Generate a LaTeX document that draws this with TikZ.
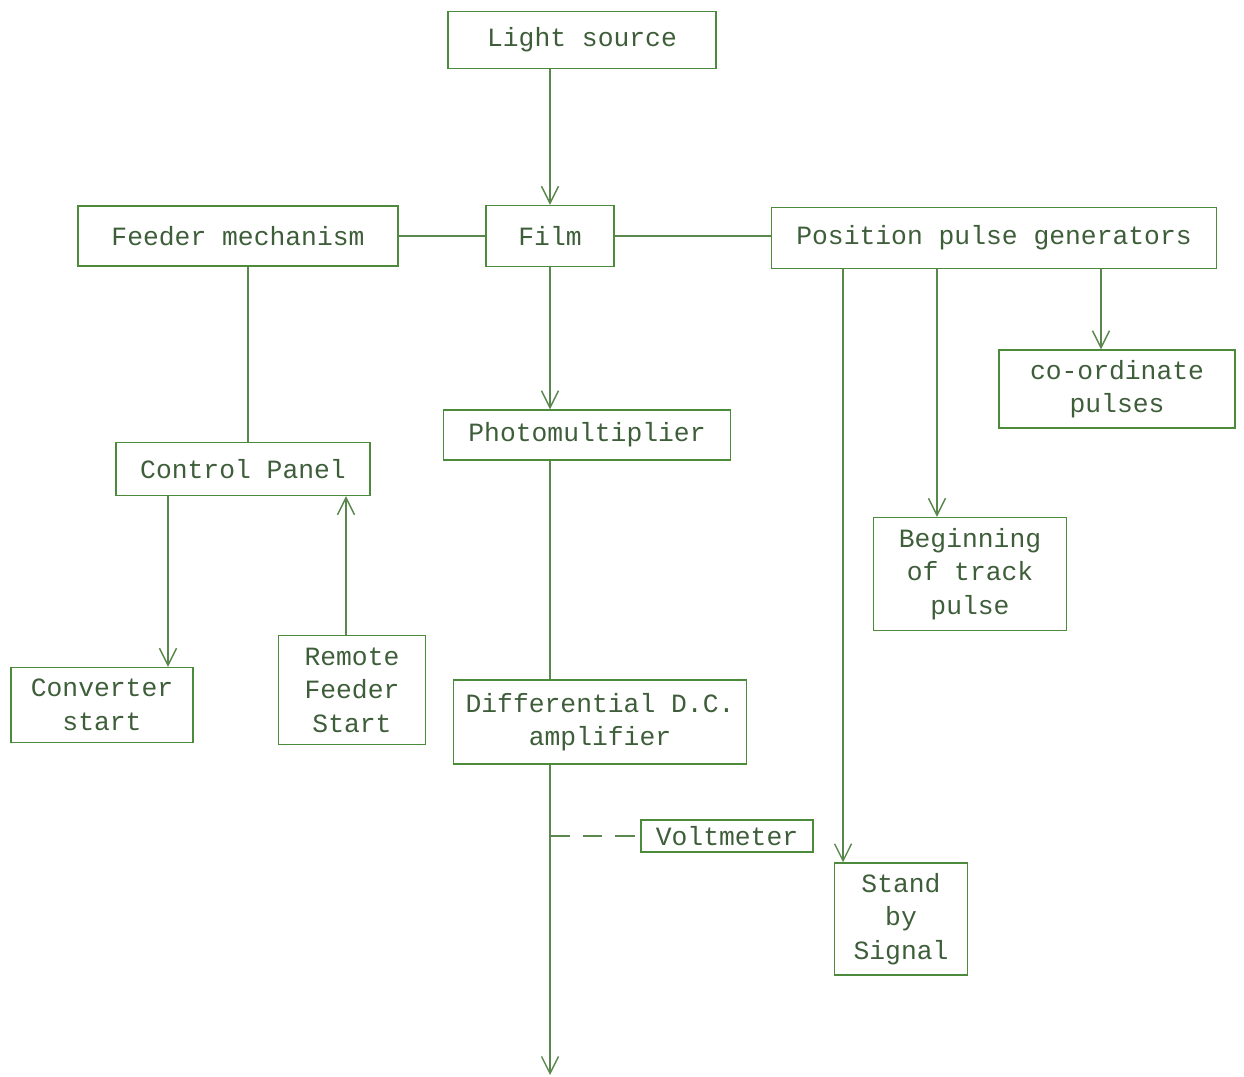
\documentclass[tikz,border=0pt]{standalone}
\usepackage{fontspec}
\setmonofont{Liberation Mono}
\usetikzlibrary{arrows.meta, positioning}
\definecolor{ink}{HTML}{3E5E3A}
\definecolor{wire}{HTML}{4C8A3C}

\begin{document}
\begin{tikzpicture}[
      x=0.02cm, y=-0.02cm,
      font=\ttfamily\fontsize{15}{19}\selectfont,
      box/.style={rectangle, draw=wire, thick, text=ink, align=center, inner sep=0pt},
      arrow/.style={draw=wire!75!gray, thick, -{Straight Barb[length=3.4mm, width=3.4mm]}},
      line/.style={draw=wire!75!gray, thick}
    ]
      \useasboundingbox (0,0) rectangle (1244,1077);

      \node (light) [box, minimum width=5.36cm, minimum height=1.14cm] at (582,40) {Light source};
      \node (film) [box, minimum width=2.56cm, minimum height=1.22cm] at (550,236) {Film};
      \node (feeder) [box, minimum width=6.4cm, minimum height=1.2cm] at (238,236) {Feeder mechanism};
      \node (position) [box, minimum width=8.9cm, minimum height=1.22cm] at (994,238) {Position pulse generators};
      \node (coord) [box, minimum width=4.72cm, minimum height=1.56cm] at (1117,389) {co-ordinate\\ pulses};
      \node (photo) [box, minimum width=5.74cm, minimum height=1.0cm] at (587,435) {Photomultiplier};
      \node (panel) [box, minimum width=5.08cm, minimum height=1.06cm] at (243,469) {Control Panel};
      \node (begin) [box, minimum width=3.86cm, minimum height=2.26cm] at (970,574) {Beginning\\ of track\\ pulse};
      \node (conv) [box, minimum width=3.64cm, minimum height=1.5cm] at (102,705) {Converter\\ start};
      \node (remote) [box, minimum width=2.94cm, minimum height=2.18cm] at (352,690) {Remote\\ Feeder\\ Start};
      \node (diff) [box, minimum width=5.86cm, minimum height=1.68cm] at (600,722) {Differential D.C.\\ amplifier};
      \node (volt) [box, minimum width=3.44cm, minimum height=0.64cm] at (727,836) {Voltmeter};
      \node (stand) [box, minimum width=2.66cm, minimum height=2.24cm] at (901,919) {Stand\\ by\\ Signal};
      \coordinate (out) at (550,1075);

      \draw [arrow] (light.south -| film) -- (film);
      \draw [line] (feeder) -- (film);
      \draw [line] (film.east) -- (film.east -| position.west);
      \draw [arrow] (film) -- (photo.north -| film);
      \draw [line] ([xshift=0.1cm]feeder.south -| panel) -- ([xshift=0.1cm]panel.north);
      \draw [arrow] ([xshift=-1.5cm]panel.south) -- ([xshift=-1.5cm]panel.south |- conv.north);
      \draw [arrow] ([xshift=-0.12cm]remote.north) -- ([xshift=-0.12cm]remote.north |- panel.south);
      \draw [line] (photo.south -| film) -- (diff.north -| film);
      \draw [arrow] (diff.south -| film) -- (out);
      \draw [line, dash pattern=on 0.4cm off 0.25cm] (volt.west -| film) -- (volt.west);
      \draw [arrow] ([xshift=-3.02cm]position.south) -- ([xshift=-3.02cm]position.south |- stand.north);
      \draw [arrow] ([xshift=-1.14cm]position.south) -- ([xshift=-1.14cm]position.south |- begin.north);
      \draw [arrow] ([xshift=2.14cm]position.south) -- ([xshift=2.14cm]position.south |- coord.north);
    \end{tikzpicture}
\end{document}
